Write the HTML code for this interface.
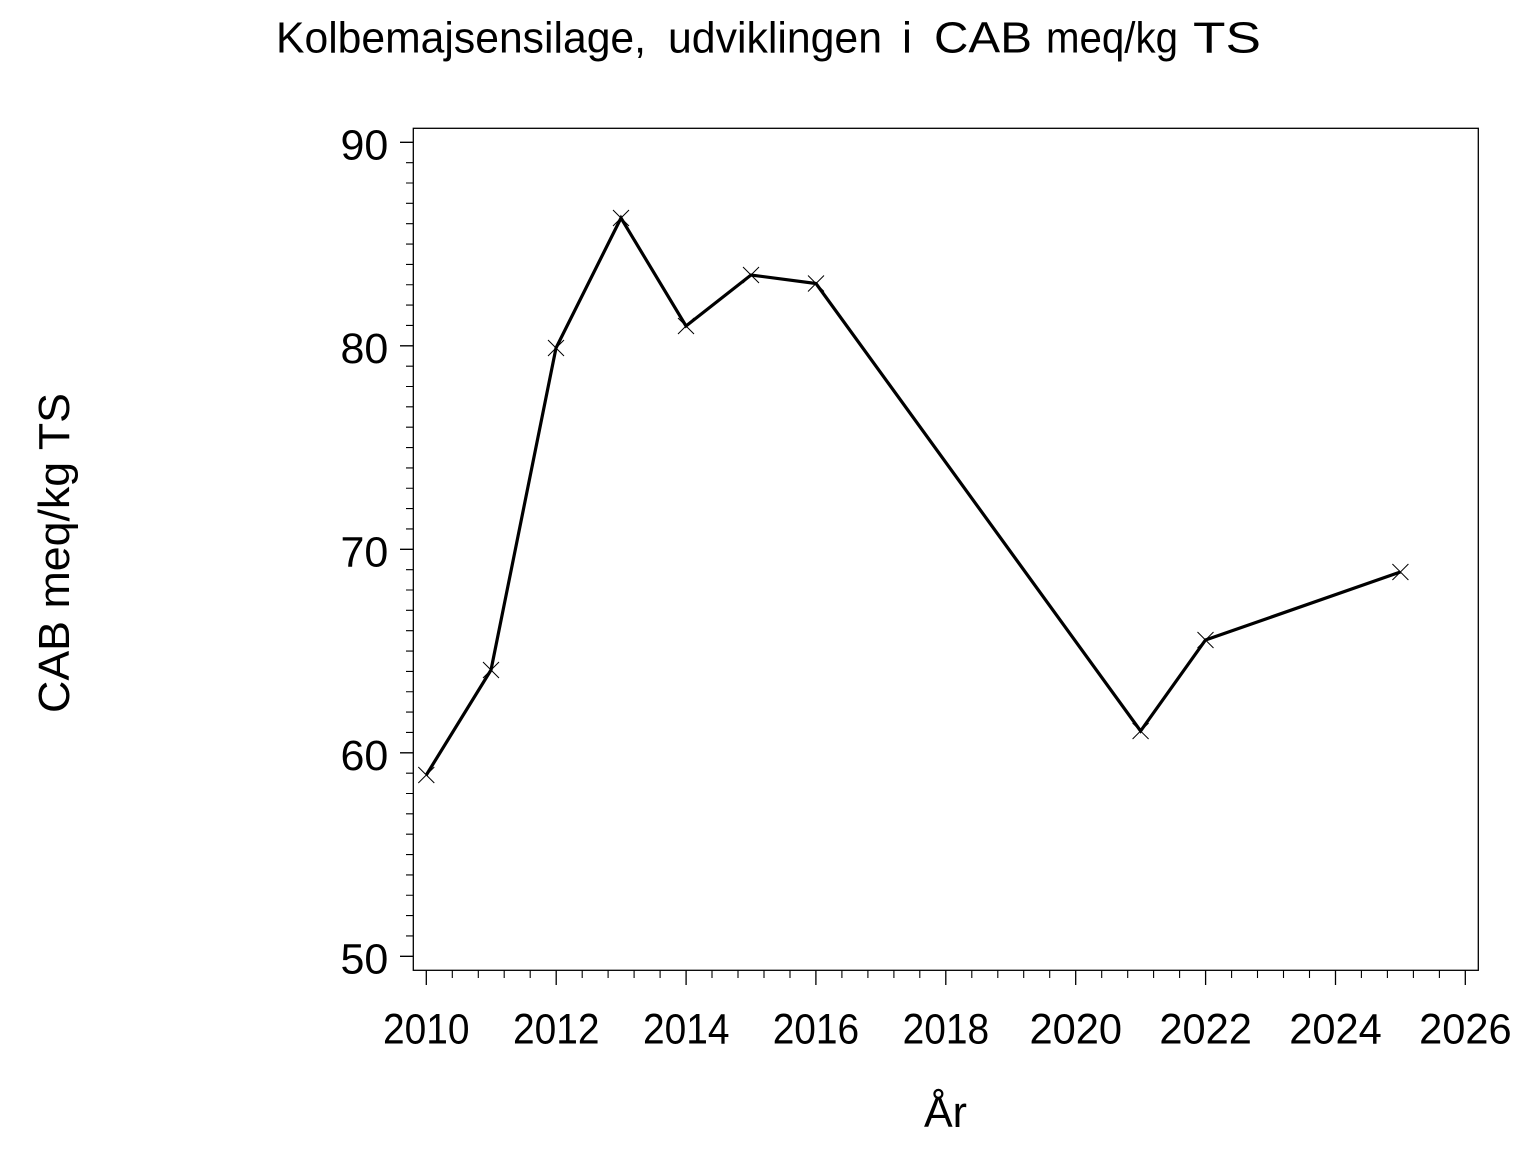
<!DOCTYPE html>
<html>
<head>
<meta charset="utf-8">
<style>
  html, body { margin: 0; padding: 0; background: #fff; }
  svg { display: block; }
  text { font-family: "Liberation Sans", Arial, sans-serif; fill: #000; }
</style>
</head>
<body>
<svg width="1536" height="1152" viewBox="0 0 1536 1152" xmlns="http://www.w3.org/2000/svg">
  <rect x="0" y="0" width="1536" height="1152" fill="#fff"/>

  <!-- Title -->
  <g font-size="44">
    <text x="276" y="52.5" textLength="370" lengthAdjust="spacingAndGlyphs">Kolbemajsensilage,</text>
    <text x="668" y="52.5" textLength="214" lengthAdjust="spacingAndGlyphs">udviklingen</text>
    <text x="902" y="52.5" textLength="10" lengthAdjust="spacingAndGlyphs">i</text>
    <text x="934" y="52.5" textLength="98" lengthAdjust="spacingAndGlyphs">CAB</text>
    <text x="1046" y="52.5" textLength="132" lengthAdjust="spacingAndGlyphs">meq/kg</text>
    <text x="1193" y="52.5" textLength="68" lengthAdjust="spacingAndGlyphs">TS</text>
  </g>

  <!-- Frame -->
  <rect x="413.3" y="128.3" width="1065" height="842" fill="none" stroke="#000" stroke-width="1.3"/>

  <!-- Y major ticks -->
  <path stroke="#000" stroke-width="1.3" fill="none" d="
    M400,142.3 H413.3
    M400,345.8 H413.3
    M400,549.3 H413.3
    M400,752.8 H413.3
    M400,956.3 H413.3"/>
  <!-- Y minor ticks -->
  <path stroke="#000" stroke-width="1.1" fill="none" d="
    M406,162.65 H413.3 M406,183 H413.3 M406,203.35 H413.3 M406,223.7 H413.3 M406,244.05 H413.3
    M406,264.4 H413.3 M406,284.75 H413.3 M406,305.1 H413.3 M406,325.45 H413.3
    M406,366.15 H413.3 M406,386.5 H413.3 M406,406.85 H413.3 M406,427.2 H413.3 M406,447.55 H413.3
    M406,467.9 H413.3 M406,488.25 H413.3 M406,508.6 H413.3 M406,528.95 H413.3
    M406,569.65 H413.3 M406,590 H413.3 M406,610.35 H413.3 M406,630.7 H413.3 M406,651.05 H413.3
    M406,671.4 H413.3 M406,691.75 H413.3 M406,712.1 H413.3 M406,732.45 H413.3
    M406,773.15 H413.3 M406,793.5 H413.3 M406,813.85 H413.3 M406,834.2 H413.3 M406,854.55 H413.3
    M406,874.9 H413.3 M406,895.25 H413.3 M406,915.6 H413.3 M406,935.95 H413.3"/>

  <!-- X major ticks -->
  <path stroke="#000" stroke-width="1.3" fill="none" d="
    M426.3,970.3 V985 M556.2,970.3 V985 M686.1,970.3 V985 M815.9,970.3 V985
    M945.8,970.3 V985 M1075.7,970.3 V985 M1205.6,970.3 V985 M1335.5,970.3 V985 M1465.3,970.3 V985"/>
  <!-- X minor ticks -->
  <path stroke="#000" stroke-width="1.1" fill="none" d="
    M452.3,970.3 V978 M478.3,970.3 V978 M504.2,970.3 V978 M530.2,970.3 V978
    M582.2,970.3 V978 M608.1,970.3 V978 M634.1,970.3 V978 M660.1,970.3 V978
    M712,970.3 V978 M738,970.3 V978 M764,970.3 V978 M790,970.3 V978
    M841.9,970.3 V978 M867.9,970.3 V978 M893.9,970.3 V978 M919.8,970.3 V978
    M971.8,970.3 V978 M997.8,970.3 V978 M1023.7,970.3 V978 M1049.7,970.3 V978
    M1101.7,970.3 V978 M1127.7,970.3 V978 M1153.6,970.3 V978 M1179.6,970.3 V978
    M1231.6,970.3 V978 M1257.5,970.3 V978 M1283.5,970.3 V978 M1309.5,970.3 V978
    M1361.4,970.3 V978 M1387.4,970.3 V978 M1413.4,970.3 V978 M1439.4,970.3 V978"/>

  <!-- Y tick labels -->
  <g font-size="43" text-anchor="end">
    <text x="388.3" y="159.6">90</text>
    <text x="388.3" y="363.1">80</text>
    <text x="388.3" y="566.6">70</text>
    <text x="388.3" y="770.1">60</text>
    <text x="388.3" y="973.6">50</text>
  </g>

  <!-- X tick labels -->
  <g font-size="43">
    <text x="383" y="1043.5" textLength="86.5" lengthAdjust="spacingAndGlyphs">2010</text>
    <text x="513" y="1043.5" textLength="86.5" lengthAdjust="spacingAndGlyphs">2012</text>
    <text x="643" y="1043.5" textLength="86.5" lengthAdjust="spacingAndGlyphs">2014</text>
    <text x="772.7" y="1043.5" textLength="86.5" lengthAdjust="spacingAndGlyphs">2016</text>
    <text x="902.6" y="1043.5" textLength="86.5" lengthAdjust="spacingAndGlyphs">2018</text>
    <text x="1029.5" y="1043.5" textLength="92.5" lengthAdjust="spacingAndGlyphs">2020</text>
    <text x="1159.4" y="1043.5" textLength="92.5" lengthAdjust="spacingAndGlyphs">2022</text>
    <text x="1289.3" y="1043.5" textLength="92.5" lengthAdjust="spacingAndGlyphs">2024</text>
    <text x="1419.1" y="1043.5" textLength="92.5" lengthAdjust="spacingAndGlyphs">2026</text>
  </g>

  <!-- Axis titles -->
  <text x="924" y="1127" font-size="44" textLength="43" lengthAdjust="spacingAndGlyphs">År</text>
  <text transform="rotate(-90)" x="-713" y="69" font-size="44" textLength="320" lengthAdjust="spacingAndGlyphs">CAB  meq/kg  TS</text>

  <!-- Data line -->
  <polyline fill="none" stroke="#000" stroke-width="3.2" stroke-linejoin="miter"
    points="426.3,775 491,670 556,348 621,218 686,326 751,275 816,283.5 1140.6,731 1205.5,640 1400.4,572"/>

  <!-- Markers -->
  <g stroke="#000" stroke-width="1" fill="none">
    <path d="M418.3,767 l16,16 M434.3,767 l-16,16"/>
    <path d="M483,662 l16,16 M499,662 l-16,16"/>
    <path d="M548,340 l16,16 M564,340 l-16,16"/>
    <path d="M613,210 l16,16 M629,210 l-16,16"/>
    <path d="M678,318 l16,16 M694,318 l-16,16"/>
    <path d="M743,267 l16,16 M759,267 l-16,16"/>
    <path d="M808,275.5 l16,16 M824,275.5 l-16,16"/>
    <path d="M1132.6,723 l16,16 M1148.6,723 l-16,16"/>
    <path d="M1197.5,632 l16,16 M1213.5,632 l-16,16"/>
    <path d="M1392.4,564 l16,16 M1408.4,564 l-16,16"/>
  </g>
</svg>
</body>
</html>
